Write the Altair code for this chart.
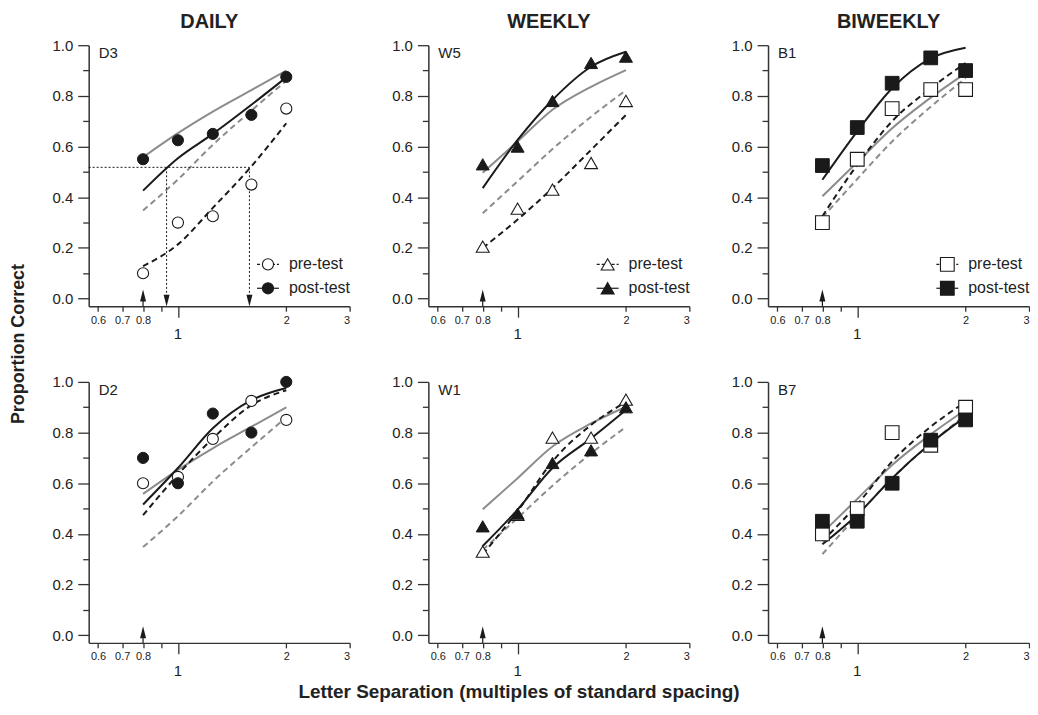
import altair as alt
import pandas as pd

# ---------------- data ----------------
X_LEVELS = [0.8, 1.0, 1.25, 1.6, 2.0]
COLUMN_TITLES = ["DAILY", "WEEKLY", "BIWEEKLY"]
PANEL_IDS = ["D3", "W5", "B1", "D2", "W1", "B7"]
LEGEND_LABELS = ["pre-test", "post-test"]
X_TICKS = [0.6, 0.7, 0.8, 0.9, 1, 2, 3]
Y_TICKS = [0.0, 0.1, 0.2, 0.3, 0.4, 0.5, 0.6, 0.7, 0.8, 0.9, 1.0]
X_TITLE = "Letter Separation (multiples of standard spacing)"
Y_TITLE = "Proportion Correct"

# observed proportions (pre-test, post-test)
D3_PRE = [0.10, 0.30, 0.325, 0.45, 0.75]
D3_POST = [0.55, 0.625, 0.65, 0.725, 0.875]
W5_PRE = [0.205, 0.355, 0.43, 0.535, 0.78]
W5_POST = [0.53, 0.60, 0.78, 0.93, 0.955]
B1_PRE = [0.30, 0.55, 0.75, 0.825, 0.825]
B1_POST = [0.525, 0.675, 0.85, 0.95, 0.90]
D2_PRE = [0.60, 0.625, 0.775, 0.925, 0.85]
D2_POST = [0.70, 0.60, 0.875, 0.80, 1.00]
W1_PRE = [0.33, 0.475, 0.78, 0.78, 0.93]
W1_POST = [0.43, 0.48, 0.68, 0.73, 0.90]
B7_PRE = [0.40, 0.50, 0.80, 0.75, 0.90]
B7_POST = [0.45, 0.45, 0.60, 0.77, 0.85]

# individual fitted curves (black)
D3_PRE_FIT = [0.128, 0.214, 0.358, 0.522, 0.692]
D3_POST_FIT = [0.426, 0.554, 0.650, 0.765, 0.873]
W5_PRE_FIT = [0.200, 0.312, 0.436, 0.587, 0.725]
W5_POST_FIT = [0.436, 0.626, 0.784, 0.915, 0.974]
B1_PRE_FIT = [0.325, 0.528, 0.700, 0.830, 0.930]
B1_POST_FIT = [0.469, 0.660, 0.830, 0.948, 0.990]
D2_PRE_FIT = [0.474, 0.634, 0.777, 0.908, 0.967]
D2_POST_FIT = [0.516, 0.660, 0.817, 0.928, 0.976]
W1_PRE_FIT = [0.320, 0.490, 0.686, 0.830, 0.921]
W1_POST_FIT = [0.352, 0.496, 0.660, 0.777, 0.889]
B7_PRE_FIT = [0.372, 0.516, 0.686, 0.823, 0.921]
B7_POST_FIT = [0.359, 0.476, 0.620, 0.758, 0.863]

# group fitted curves (gray)
DAILY_PRE_FIT = [0.348, 0.470, 0.607, 0.742, 0.860]
DAILY_POST_FIT = [0.558, 0.653, 0.738, 0.823, 0.900]
WEEKLY_PRE_FIT = [0.337, 0.463, 0.590, 0.718, 0.822]
WEEKLY_POST_FIT = [0.497, 0.620, 0.745, 0.836, 0.902]
BIWEEKLY_PRE_FIT = [0.320, 0.472, 0.620, 0.757, 0.870]
BIWEEKLY_POST_FIT = [0.404, 0.538, 0.672, 0.793, 0.890]

# threshold construction in panel D3
THRESHOLD = 0.518
THRESHOLD_X = [0.93, 1.58]
STIM_X = 0.8
X_DOMAIN = [0.565, 3.0]
Y_DOMAIN = [-0.03, 1.0]

OBS = {
    "D3": (D3_PRE, D3_POST), "W5": (W5_PRE, W5_POST), "B1": (B1_PRE, B1_POST),
    "D2": (D2_PRE, D2_POST), "W1": (W1_PRE, W1_POST), "B7": (B7_PRE, B7_POST),
}
FITS = {
    "D3": (D3_PRE_FIT, D3_POST_FIT), "W5": (W5_PRE_FIT, W5_POST_FIT),
    "B1": (B1_PRE_FIT, B1_POST_FIT), "D2": (D2_PRE_FIT, D2_POST_FIT),
    "W1": (W1_PRE_FIT, W1_POST_FIT), "B7": (B7_PRE_FIT, B7_POST_FIT),
}
GROUP_FITS = [(DAILY_PRE_FIT, DAILY_POST_FIT), (WEEKLY_PRE_FIT, WEEKLY_POST_FIT),
              (BIWEEKLY_PRE_FIT, BIWEEKLY_POST_FIT)]
SHAPES = ["circle", "triangle-up", "square"]
SIZES = [125, 170, 190]

# ---------------- styling ----------------
W, H = 262, 262
FONT = "Liberation Sans"
INK = "#1a1a1a"
AXIS_INK = "#333333"
GRAY = "#8c8c8c"
ARROW_UP = "M0,-1 L-0.5,1 L0.5,1 Z"
ARROW_DOWN = "M0,1 L-0.5,-1 L0.5,-1 Z"

x_axis = alt.Axis(
    values=X_TICKS,
    title=None,
    grid=False,
    labelExpr="(datum.value > 0.85 && datum.value < 1.05) ? '' : '' + datum.value",
    labelFontSize=11,
    labelPadding=3,
    tickSize={"condition": {"test": "datum.value == 1", "value": 11}, "value": 5},
)
y_axis = alt.Axis(
    values=Y_TICKS,
    title=None,
    grid=False,
    labelExpr="round(datum.value * 10) % 2 == 0 ? format(datum.value, '.1f') : ''",
    labelFontSize=15,
    labelPadding=5,
    tickSize={"condition": {"test": "round(datum.value * 10) % 2 == 0", "value": 11}, "value": 6},
)
XS = alt.Scale(type="log", domain=X_DOMAIN, nice=False)
YS = alt.Scale(domain=Y_DOMAIN, nice=False, zero=False)


def X():
    return alt.X("x:Q", scale=XS, axis=x_axis)


def Y():
    return alt.Y("y:Q", scale=YS, axis=y_axis)


def curve(values, color, dash):
    df = pd.DataFrame({"x": X_LEVELS, "y": values})
    kw = dict(color=color, strokeWidth=2, interpolate="monotone")
    if dash:
        kw["strokeDash"] = [6, 4]
    return alt.Chart(df).mark_line(**kw).encode(x=X(), y=Y())


def panel(idx):
    pid = PANEL_IDS[idx]
    col = idx % 3
    row = idx // 3
    shape = SHAPES[col]
    size = SIZES[col]
    pre, post = OBS[pid]
    pre_fit, post_fit = FITS[pid]
    g_pre, g_post = GROUP_FITS[col]

    layers = [
        curve(g_post, GRAY, False),
        curve(g_pre, GRAY, True),
        curve(pre_fit, INK, True),
        curve(post_fit, INK, False),
    ]

    if pid == "D3":
        hdf = pd.DataFrame({"x": [X_DOMAIN[0]], "x2": [max(THRESHOLD_X)], "y": [THRESHOLD]})
        layers.append(
            alt.Chart(hdf).mark_rule(color=INK, strokeWidth=1, strokeDash=[2, 2]).encode(
                x=X(), x2="x2:Q", y=Y()
            )
        )
        vdf = pd.DataFrame({"x": THRESHOLD_X, "y": [THRESHOLD] * 2, "y2": [0.0] * 2})
        layers.append(
            alt.Chart(vdf).mark_rule(color=INK, strokeWidth=1, strokeDash=[2, 2]).encode(
                x=X(), y=Y(), y2="y2:Q"
            )
        )
        adf = pd.DataFrame({"x": THRESHOLD_X, "y": [-0.008] * 2})
        layers.append(
            alt.Chart(adf).mark_point(shape=ARROW_DOWN, filled=True, color=INK, size=144, opacity=1).encode(
                x=X(), y=Y()
            )
        )

    # stimulus arrow at 0.8
    sdf = pd.DataFrame({"x": [STIM_X], "y": [Y_DOMAIN[0]], "y2": [0.01]})
    layers.append(
        alt.Chart(sdf).mark_rule(color=INK, strokeWidth=1.2).encode(x=X(), y=Y(), y2="y2:Q")
    )
    sadf = pd.DataFrame({"x": [STIM_X], "y": [0.012]})
    layers.append(
        alt.Chart(sadf).mark_point(shape=ARROW_UP, filled=True, color=INK, size=144, opacity=1).encode(
            x=X(), y=Y()
        )
    )

    # observed data
    pdf = pd.DataFrame({"x": X_LEVELS, "y": pre})
    layers.append(
        alt.Chart(pdf).mark_point(shape=shape, size=size, filled=True, fill="white",
                                  stroke=INK, strokeWidth=1.1, opacity=1).encode(x=X(), y=Y())
    )
    qdf = pd.DataFrame({"x": X_LEVELS, "y": post})
    layers.append(
        alt.Chart(qdf).mark_point(shape=shape, size=size, filled=True, fill=INK,
                                  stroke=INK, strokeWidth=1, opacity=1).encode(x=X(), y=Y())
    )

    # "1" tick label (larger, lower)
    one = pd.DataFrame({"x": [1.0], "t": ["1"]})
    layers.append(
        alt.Chart(one).mark_text(fontSize=15, font=FONT, color="#222", baseline="middle").encode(
            x=X(), y=alt.value(H + 28), text="t:N"
        )
    )

    # panel label
    lab = pd.DataFrame({"t": [pid]})
    layers.append(
        alt.Chart(lab).mark_text(fontSize=15, font=FONT, color="#222", align="left",
                                 baseline="alphabetic").encode(
            x=alt.value(10), y=alt.value(13), text="t:N"
        )
    )

    # legend and column title (top row)
    if row == 0:
        for k, (lbl, yy) in enumerate(zip(LEGEND_LABELS, [220, 244])):
            ldf = pd.DataFrame({"t": [lbl]})
            rule_kw = dict(color=INK, strokeWidth=1.2)
            if k == 0:
                rule_kw["strokeDash"] = [3, 2]
            layers.append(
                alt.Chart(ldf).mark_rule(**rule_kw).encode(
                    x=alt.value(169), x2=alt.value(191), y=alt.value(yy)
                )
            )
            layers.append(
                alt.Chart(ldf).mark_point(
                    shape=shape, size=size, filled=True,
                    fill="white" if k == 0 else INK, stroke=INK,
                    strokeWidth=1.1, opacity=1,
                ).encode(x=alt.value(180), y=alt.value(yy))
            )
            layers.append(
                alt.Chart(ldf).mark_text(fontSize=16, font=FONT, color="#222", align="left",
                                         baseline="middle").encode(
                    x=alt.value(201), y=alt.value(yy), text="t:N"
                )
            )
        cdf = pd.DataFrame({"t": [COLUMN_TITLES[col]]})
        layers.append(
            alt.Chart(cdf).mark_text(fontSize=20, font=FONT, fontWeight="bold", color="#222",
                                     align="center", baseline="alphabetic").encode(
                x=alt.value(W / 2 - 10), y=alt.value(-17), text="t:N"
            )
        )

    # shared axis titles
    if pid == "D3":
        tdf = pd.DataFrame({"t": [Y_TITLE]})
        layers.append(
            alt.Chart(tdf).mark_text(fontSize=18, font=FONT, fontWeight="bold", color="#222",
                                     angle=270, align="center", baseline="middle").encode(
                x=alt.value(-70), y=alt.value(300), text="t:N"
            )
        )
    if pid == "W1":
        tdf = pd.DataFrame({"t": [X_TITLE]})
        layers.append(
            alt.Chart(tdf).mark_text(fontSize=19, font=FONT, fontWeight="bold", color="#222",
                                     align="center", baseline="middle").encode(
                x=alt.value(91), y=alt.value(H + 49), text="t:N"
            )
        )

    return alt.layer(*layers).properties(width=W, height=H)


chart = alt.concat(
    *[panel(i) for i in range(6)],
    columns=3,
    spacing={"row": 76, "column": 79},
    bounds="flush",
).properties(
    padding={"left": 2, "top": 3, "right": 0, "bottom": 0}
).configure_view(
    stroke=None
).configure_axis(
    labelFont=FONT,
    labelColor="#222",
    domainColor=AXIS_INK,
    domainWidth=1.5,
    tickColor=AXIS_INK,
    tickWidth=1.3,
)

chart.save("out.html", embed_options={"renderer": "svg", "actions": False})
